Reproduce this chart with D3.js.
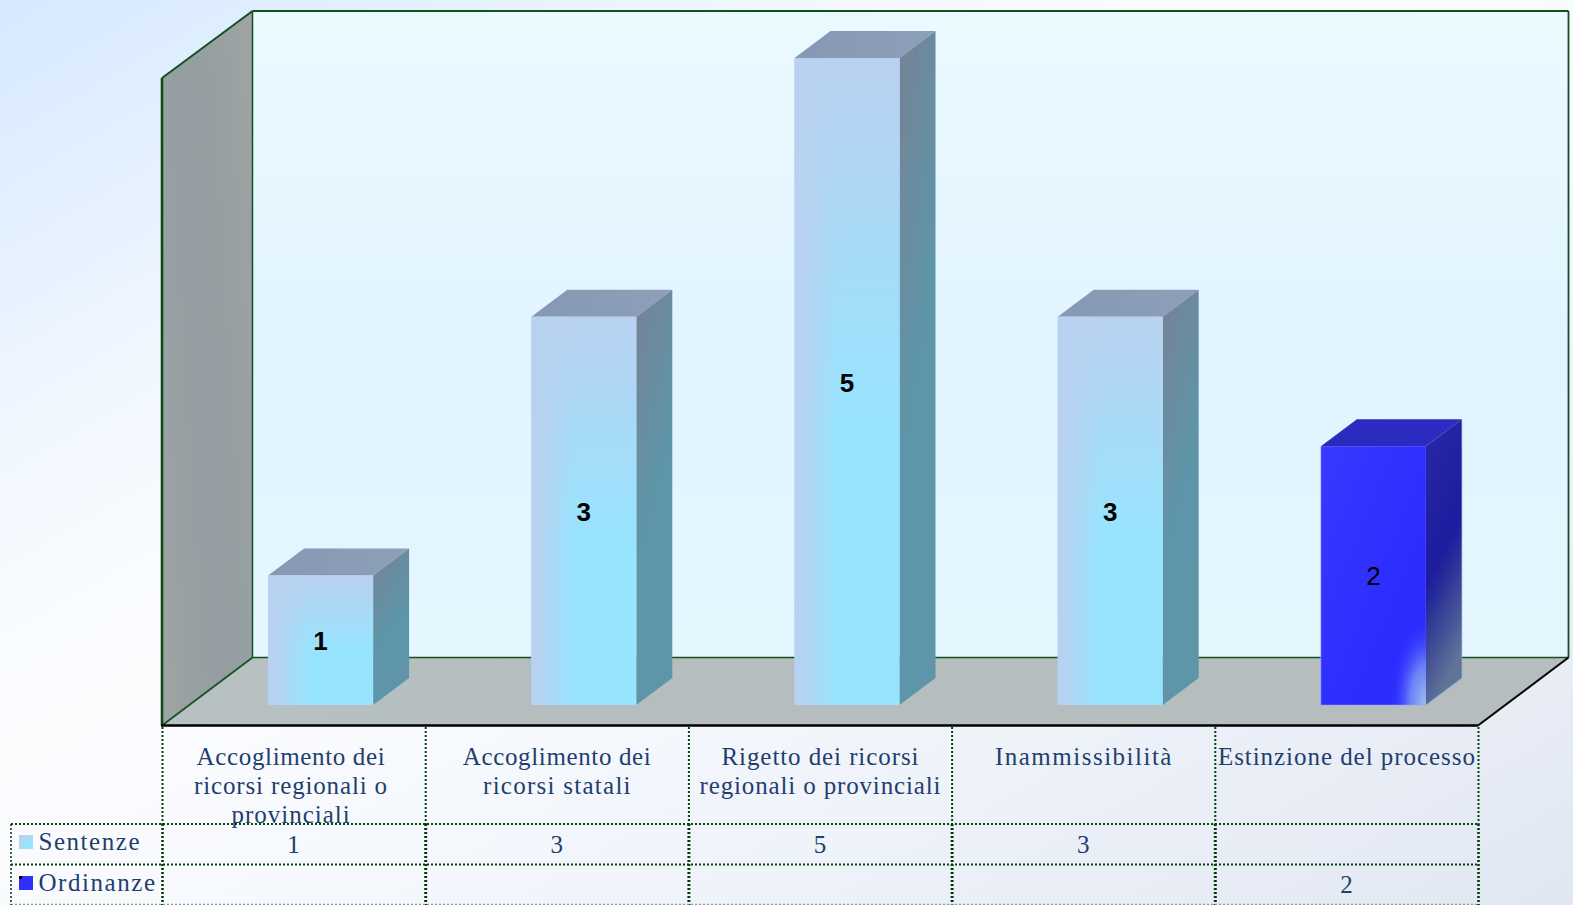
<!DOCTYPE html>
<html><head><meta charset="utf-8">
<style>html,body{margin:0;padding:0;overflow:hidden;background:#fff}svg{display:block}</style>
<script src="https://cdn.jsdelivr.net/npm/d3@7"></script></head>
<body><svg id="c" width="1573" height="905"></svg>
<script>
const categories = ["Accoglimento dei ricorsi regionali o provinciali","Accoglimento dei ricorsi statali","Rigetto dei ricorsi regionali o provinciali","Inammissibilità","Estinzione del processo"];
const categoryLines = [["Accoglimento dei","ricorsi regionali o","provinciali"],["Accoglimento dei","ricorsi statali"],["Rigetto dei ricorsi","regionali o provinciali"],["Inammissibilità"],["Estinzione del processo"]];
const sentenze = [1,3,5,3,null];
const ordinanze = [null,null,null,null,2];
const seriesNames = ["Sentenze","Ordinanze"];

const W=1573,H=905;
const L=162,R=1478,F=725.5,DX=90.5,DY=68,TOP=11;
// rendered widths, to reproduce the wide serif of the original with an installed font
const textWidths={"Accoglimento dei":188,"ricorsi regionali o":193,"provinciali":118,"ricorsi statali":147.5,"Rigetto dei ricorsi":197,"regionali o provinciali":241,"Inammissibilità":176.5,"Estinzione del processo":257,"Sentenze":101,"Ordinanze":116.5};
const svg=d3.select("#c");
const defs=svg.append("defs");
function lg(id,x1,y1,x2,y2,stops){
  const g=defs.append("linearGradient").attr("id",id).attr("x1",x1).attr("y1",y1).attr("x2",x2).attr("y2",y2);
  stops.forEach(s=>g.append("stop").attr("offset",s[0]).attr("stop-color",s[1]).attr("stop-opacity",s[2]===undefined?1:s[2]));
}
lg("bg",0,0,1,1,[[0,"#d6e9ff"],[.28,"#f4f9ff"],[.42,"#fcfdff"],[.6,"#f5f8fd"],[1,"#e1e7f2"]]);
lg("wall",0,0,0,1,[[0,"#eafaff"],[.5,"#e2f4ff"],[1,"#e4f7ff"]]);
lg("lwallA",1,0,0,.5,[[0,"#a0a4a3",1],[.8,"#a0a4a3",0]]);
lg("lwallB",0,1,1,.5,[[0,"#a0a4a3",1],[.8,"#a0a4a3",0]]);
lg("floor",0,0,1,0,[[0,"#b8c2c3"],[.3,"#b5bdbe"],[1,"#b5bdbe"]]);
lg("frontV",0,0,0,1,[[0,"#b9d1f0"],[.58,"#97e4ff"],[1,"#97e4ff"]]);
lg("frontH",0,0,1,0,[[0,"#b9d1f0",1],[.1,"#b9d1f0",.85],[.4,"#b9d1f0",0]]);
lg("sideL",0,0,.3,1,[[0,"#768296"],[.58,"#5f95a8"],[1,"#5f95a8"]]);
lg("topL",0,0,1,0,[[0,"#8698b3"],[1,"#8e9fb9"]]);
lg("frontB",0,0,1,1,[[0,"#3838ff"],[.7,"#2c2cff"],[1,"#2c2cff"]]);
lg("sideB",0,0,.25,1,[[0,"#2828a8"],[.55,"#1c1c9e"],[.66,"#2b3098"],[1,"#5f7596"]]);
lg("topB",0,0,1,0,[[0,"#2a2abe"],[1,"#2c2cc4"]]);
const rg=defs.append("radialGradient").attr("id","glow");
rg.append("stop").attr("offset",0).attr("stop-color","#9dbcf0");
rg.append("stop").attr("offset",.45).attr("stop-color","#6a80f8");
rg.append("stop").attr("offset",1).attr("stop-color","#2c2cff").attr("stop-opacity",0);
defs.append("clipPath").attr("id","bclip").append("rect").attr("x",1321).attr("y",446).attr("width",105).attr("height",259);

svg.append("rect").attr("width",W).attr("height",H).attr("fill","url(#bg)");

const x=d3.scaleBand().domain(d3.range(categories.length)).range([L,R]);
const y=d3.scaleLinear().domain([0,5]).range([705,58]);
const BW=105, bx=i=>x(i)+x.bandwidth()/2-BW/2+27, D=36, DD=27;

// walls and floor
const poly=(p,f)=>svg.append("polygon").attr("points",p.map(q=>q.join(",")).join(" ")).attr("fill",f);
poly([[L+DX,TOP],[R+DX,TOP],[R+DX,F-DY],[L+DX,F-DY]],"url(#wall)");
const lw=[[L,TOP+67],[L+DX,TOP],[L+DX,F-DY],[L,F]];
poly(lw,"#8c9aa1");poly(lw,"url(#lwallA)");poly(lw,"url(#lwallB)");
poly([[L,F],[L+DX,F-DY],[R+DX,F-DY],[R,F]],"url(#floor)");
const ln=(a,b,c,w)=>svg.append("line").attr("x1",a[0]).attr("y1",a[1]).attr("x2",b[0]).attr("y2",b[1]).attr("stroke",c).attr("stroke-width",w);
const G="#14501f";
ln([L+DX,TOP],[R+DX,TOP],G,1.8);
ln([R+DX,TOP],[R+DX,F-DY],G,1.8);
ln([L+DX,TOP],[L+DX,F-DY],G,1.5);
ln([L+DX,F-DY],[R+DX,F-DY],G,1.5);
ln([L,TOP+67],[L+DX,TOP],G,2);
ln([L,TOP+67],[L,F],"#0e4a18",2.6);
ln([L,F],[L+DX,F-DY],G,1.6);
ln([L-1,F],[R,F],"#000",2.6);
ln([R,F],[R+DX,F-DY],"#000",2);

// bars
const bars=[];
categories.forEach((c,i)=>{
  if(sentenze[i]!=null)bars.push({i,v:sentenze[i],s:0});
  if(ordinanze[i]!=null)bars.push({i,v:ordinanze[i],s:1});
});
const g=svg.selectAll("g.bar").data(bars).join("g").attr("class","bar");
g.append("polygon").attr("points",d=>{const a=bx(d.i),t=y(d.v);return [[a,t],[a+D,t-DD],[a+BW+D,t-DD],[a+BW,t]].join(" ")})
 .attr("fill",d=>d.s?"url(#topB)":"url(#topL)");
g.append("polygon").attr("points",d=>{const a=bx(d.i)+BW,t=y(d.v),b=y(0);return [[a,t],[a+D,t-DD],[a+D,b-DD],[a,b]].join(" ")})
 .attr("fill",d=>d.s?"url(#sideB)":"url(#sideL)");
g.append("rect").attr("x",d=>bx(d.i)).attr("y",d=>y(d.v)).attr("width",BW).attr("height",d=>y(0)-y(d.v))
 .attr("fill",d=>d.s?"url(#frontB)":"url(#frontV)");
g.filter(d=>!d.s).append("rect").attr("x",d=>bx(d.i)).attr("y",d=>y(d.v)).attr("width",BW).attr("height",d=>y(0)-y(d.v)).attr("fill","url(#frontH)");
g.filter(d=>d.s).append("ellipse").attr("cx",d=>bx(d.i)+BW).attr("cy",y(0)).attr("rx",36).attr("ry",88).attr("fill","url(#glow)").attr("clip-path","url(#bclip)");
g.filter(d=>d.s).append("polyline").attr("points",d=>{const a=bx(d.i),t=y(d.v),b=y(0);return [[a,t],[a,b],[a+BW,b],[a+BW+D,b-DD],[a+BW+D,t-DD]].join(" ")})
 .attr("fill","none").attr("stroke","#8fa0ff").attr("stroke-width",1).attr("stroke-opacity",.55);
g.append("text").attr("x",d=>bx(d.i)+BW/2).attr("y",d=>(y(d.v)+y(0))/2+(d.s?9.5:10)).attr("text-anchor","middle")
 .attr("font-family","'Liberation Sans',Arial,sans-serif").attr("font-size",26).attr("font-weight",d=>d.s?"normal":"bold").attr("fill","#000").text(d=>d.v);

// data table
const T1=824,T2=864.5,T3=904.5,TL=11,TT=727;
const dot=(a,b,c="#06420e",w=2)=>ln(a,b,c,w).attr("stroke-dasharray","2 2");
d3.range(categories.length+1).forEach(i=>{
  const X=i<categories.length?x(i):R;
  dot([X+.5,TT],[X+.5,T1]);
  dot([X+.5,T1],[X+.5,H],"#053a0b",i==0||i==categories.length?2.6:3);
});

const serif="'Liberation Serif','Times New Roman',serif", TC="#1f3f6e";
const label=(s,a,b,an="middle")=>{
  const t=svg.append("text").attr("x",a).attr("y",b).attr("text-anchor",an).attr("font-family",serif).attr("font-size",25).attr("fill",TC).text(s);
  if(textWidths[s]) t.attr("textLength",textWidths[s]).attr("lengthAdjust","spacing");
  return t;
};
categoryLines.forEach((ls,i)=>ls.forEach((s,k)=>label(s,x(i)+x.bandwidth()/2+(i==0?-3:0),765+k*28.8)));
[sentenze,ordinanze].forEach((vals,r)=>{
  vals.forEach((v,i)=>{if(v!=null)label(v,x(i)+x.bandwidth()/2,853+r*40.3)});
  label(seriesNames[r],38.5,850+r*41,"start");
});
// horizontal rules pass over the third label line
dot([TL,T1],[R,T1]);dot([TL,T2],[R,T2]);
dot([TL,T3],[R,T3],"#7fa38a",1.5);
dot([TL,T1],[TL,H],"#06420e",1.6);

svg.append("rect").attr("x",19).attr("y",835).attr("width",14).attr("height",14).attr("fill","url(#frontV)");
svg.append("rect").attr("x",19).attr("y",835).attr("width",14).attr("height",14).attr("fill","url(#frontH)");
svg.append("rect").attr("x",19).attr("y",876).attr("width",14).attr("height",14).attr("fill","#2f2fff");
svg.append("rect").attr("x",19).attr("y",876).attr("width",3).attr("height",3).attr("fill","#000");
</script></body></html>
